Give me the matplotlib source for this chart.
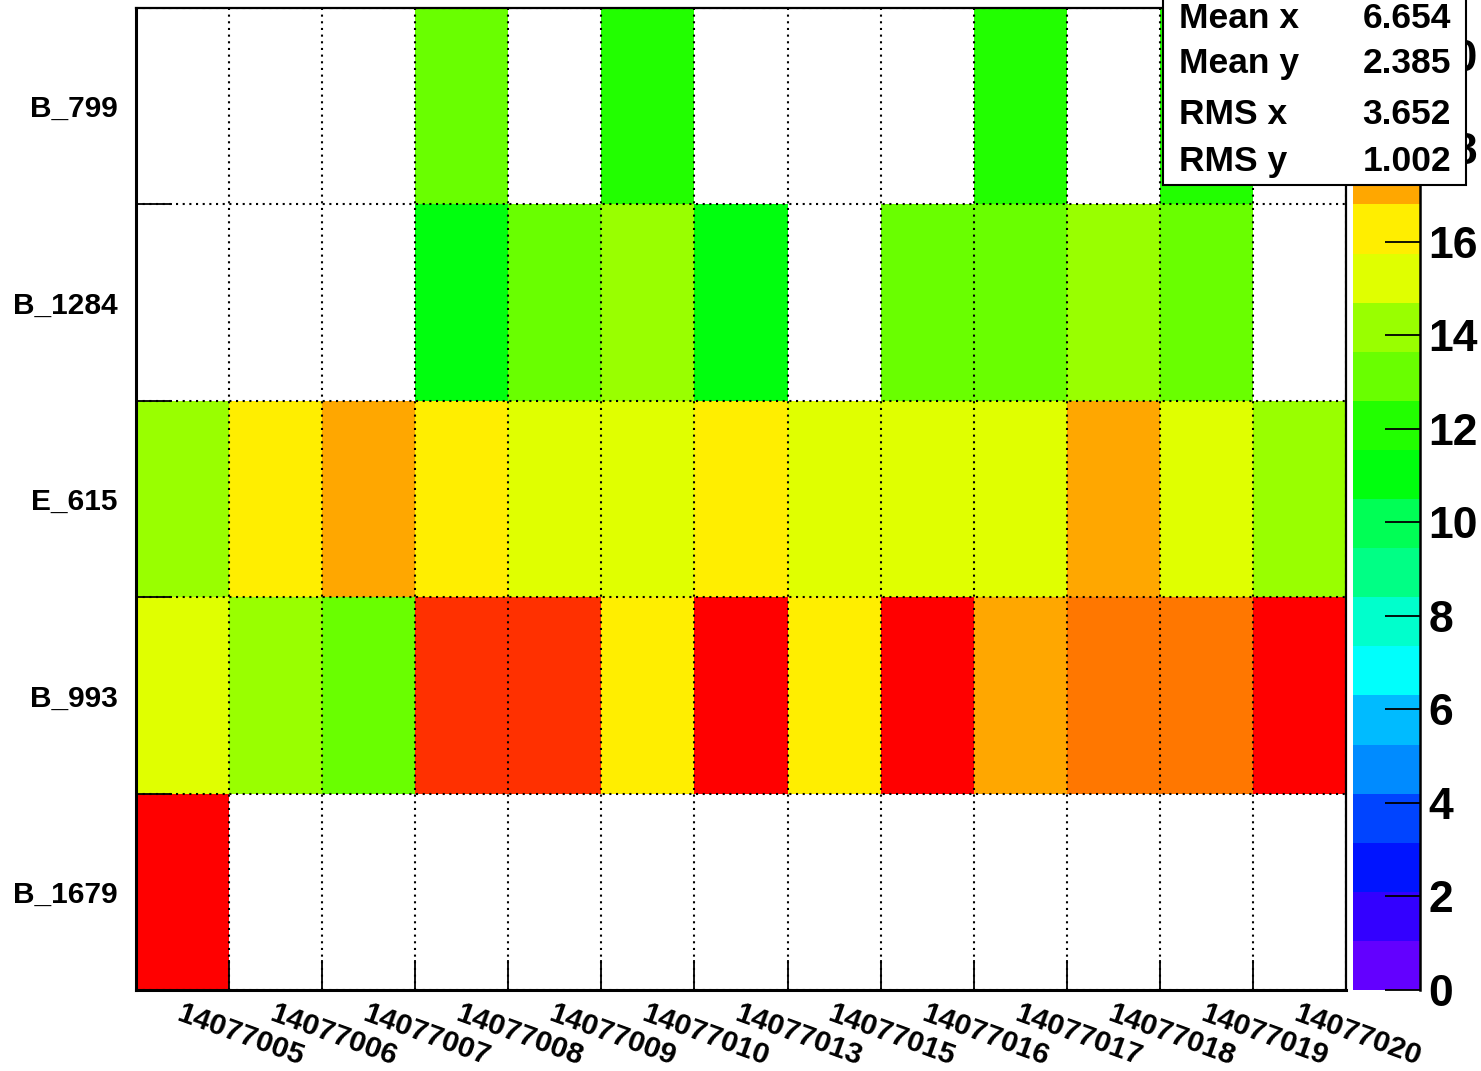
import numpy as np
import matplotlib
matplotlib.use("Agg")
import matplotlib.pyplot as plt
from matplotlib.colors import ListedColormap, Normalize
from matplotlib.lines import Line2D
from matplotlib.patches import Rectangle

plt.rcParams["font.family"] = ["Liberation Sans", "DejaVu Sans"]
plt.rcParams["font.weight"] = "bold"

# ---------------- data ----------------
runs = ["14077005", "14077006", "14077007", "14077008", "14077009", "14077010",
        "14077013", "14077015", "14077016", "14077017", "14077018", "14077019",
        "14077020"]
# channels listed bottom -> top
channels = ["B_1679", "B_993", "E_615", "B_1284", "B_799"]
nan = np.nan
counts_B_1679 = [21, nan, nan, nan, nan, nan, nan, nan, nan, nan, nan, nan, nan]
counts_B_993 = [15, 14, 13, 19, 19, 16, 20, 16, 20, 17, 18, 18, 20]
counts_E_615 = [14, 16, 17, 16, 15, 15, 16, 15, 15, 15, 17, 15, 14]
counts_B_1284 = [nan, nan, nan, 11, 13, 14, 11, nan, 13, 13, 14, 13, nan]
counts_B_799 = [nan, nan, nan, 13, nan, 12, nan, nan, nan, 12, nan, 12, nan]

stats_names = ["Mean x", "Mean y", "RMS x", "RMS y"]
stats_values = ["6.654", "2.385", "3.652", "1.002"]

z_max = 21
z_ticks = [0, 2, 4, 6, 8, 10, 12, 14, 16, 18, 20]

# ROOT "pretty" palette, 20 contour levels
palette = ["#6300FF", "#3300FF", "#0014FF", "#0044FF", "#008BFF", "#00BBFF",
           "#00FFFC", "#00FFCC", "#00FF85", "#00FF55", "#00FF0E", "#22FF00",
           "#69FF00", "#99FF00", "#E0FF00", "#FFEE00", "#FFA700", "#FF7700",
           "#FF3000", "#FF0000"]

# ---------------- figure ----------------
W, H = 1481, 1071
fig = plt.figure(figsize=(W / 100, H / 100), dpi=100)

def fx(px):
    return px / W

def fy(py):
    return (H - py) / H

ax_l, ax_r, ax_t, ax_b = 136, 1346, 8, 990
ax = fig.add_axes([fx(ax_l), fy(ax_b), fx(ax_r - ax_l), (ax_b - ax_t) / H])
cax = fig.add_axes([fx(1353), fy(ax_b), fx(1420 - 1353), (ax_b - ax_t) / H])

Z = np.ma.masked_invalid(np.array([counts_B_1679, counts_B_993, counts_E_615,
                                   counts_B_1284, counts_B_799], dtype=float))
cmap = ListedColormap(palette)
cmap.set_bad("white")
norm = Normalize(vmin=0, vmax=z_max)

xe = np.arange(len(runs) + 1)
ye = np.arange(len(channels) + 1)
mesh = ax.pcolormesh(xe, ye, Z, cmap=cmap, norm=norm)

ax.set_xlim(0, len(runs))
ax.set_ylim(0, len(channels))

# major ticks at bin edges (ticks + grid), minor at centres (labels)
ax.set_xticks(xe)
ax.set_xticklabels([])
ax.set_yticks(ye)
ax.set_yticklabels([])
ax.set_xticks(xe[:-1] + 0.5, minor=True)
ax.set_xticklabels(runs, minor=True, rotation=-20, ha="left", va="top",
                   rotation_mode="anchor", fontsize=21.5, fontweight="bold")
ax.set_yticks(ye[:-1] + 0.5, minor=True)
ax.set_yticklabels(channels, minor=True, fontsize=21.5, fontweight="bold",
                   va="center_baseline")

ax.tick_params(axis="x", which="major", direction="in", length=21.5, width=1.3,
               top=False, bottom=True)
ax.tick_params(axis="y", which="major", direction="in", length=26, width=1.3,
               left=True, right=False)
ax.tick_params(axis="x", which="minor", length=0, pad=7)
ax.tick_params(axis="y", which="minor", length=0, pad=13)

ax.set_axisbelow(False)
ax.grid(True, which="major", color="black", linestyle=(0, (1, 2.2)), linewidth=1.5)
for sp in ax.spines.values():
    sp.set_linewidth(1.6)
ax.spines["left"].set_linewidth(2.2)
ax.spines["bottom"].set_linewidth(2.2)

# colour bar
cb = fig.colorbar(mesh, cax=cax, ticks=z_ticks)
cb.outline.set_visible(False)
cax.tick_params(axis="y", direction="in", length=25, width=1.3, right=True,
                left=False, labelsize=32, pad=6)
for lab in cax.get_yticklabels():
    lab.set_fontweight("bold")
cax.add_line(Line2D([1, 1], [0, 1], transform=cax.transAxes, color="black",
                    lw=1.8, clip_on=False))

# statistics box
box_l, box_r, box_b = 1163, 1466, 185
fig.add_artist(Rectangle((fx(box_l), fy(box_b)), fx(box_r - box_l), 0.3,
                         transform=fig.transFigure, facecolor="white",
                         edgecolor="black", lw=1.5, zorder=5))
baselines = [28, 73, 124, 171]
for name, val, yb in zip(stats_names, stats_values, baselines):
    fig.text(fx(1179), fy(yb), name, ha="left", va="baseline", fontsize=25.5,
             fontweight="bold", zorder=6)
    fig.text(fx(1451), fy(yb), val, ha="right", va="baseline", fontsize=25.5,
             fontweight="bold", zorder=6)

fig.savefig("out.png", dpi=100, facecolor="white")
